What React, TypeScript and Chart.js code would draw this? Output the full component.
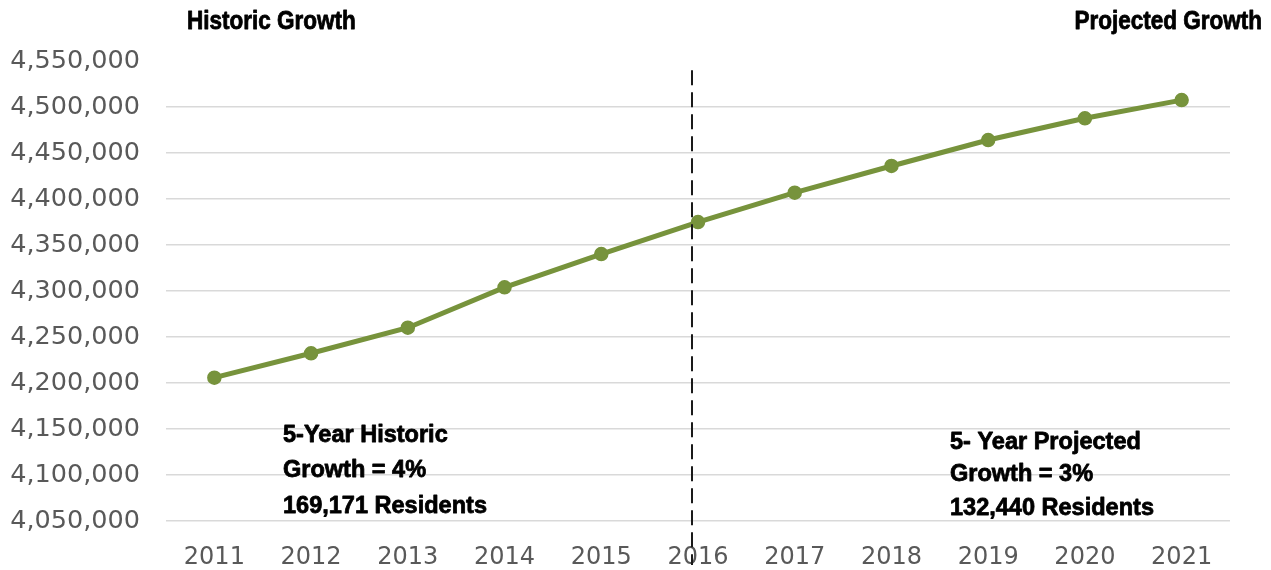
import React, { useEffect, useRef } from "react";
import { Chart, registerables } from "chart.js";

Chart.register(...registerables);

const years = ["2011", "2012", "2013", "2014", "2015", "2016", "2017", "2018", "2019", "2020", "2021"];
const population = [4205800, 4232300, 4260100, 4304000, 4340200, 4374900, 4406900, 4435900, 4464100, 4487700, 4507500];
const yMin = 4050000;
const yMax = 4550000;
const yStep = 50000;
const dividerIndex = 4.94;
const dividerTopValue = 4540000;
const headerLeft = "Historic Growth";
const headerRight = "Projected Growth";
const historicNote = ["5-Year Historic", "Growth = 4%", "169,171 Residents"];
const projectedNote = ["5- Year Projected", "Growth = 3%", "132,440 Residents"];

const LINE_COLOR = "#77933c";
const FONT_FAMILY = "'Liberation Sans Narrow', 'Arial Narrow', sans-serif";

function drawText(ctx: any, text: string, x: number, y: number, size: number, sx: number, align: "left" | "right") {
  ctx.save();
  ctx.translate(x, y);
  ctx.scale(sx, 1);
  ctx.font = `bold ${size}px ${FONT_FAMILY}`;
  ctx.textAlign = align;
  ctx.textBaseline = "alphabetic";
  ctx.fillStyle = "#000";
  ctx.strokeStyle = "#000";
  ctx.lineWidth = 0.8;
  ctx.lineJoin = "round";
  ctx.fillText(text, 0, 0);
  ctx.strokeText(text, 0, 0);
  ctx.restore();
}

const annotationPlugin = {
  id: "annotations",
  afterDatasetsDraw(chart: any) {
    const { ctx, chartArea, scales } = chart;
    const x = Math.round(scales.x.getPixelForValue(dividerIndex));
    const yTop = scales.y.getPixelForValue(dividerTopValue);
    ctx.save();
    ctx.strokeStyle = "#1a1a1a";
    ctx.lineWidth = 2;
    ctx.setLineDash([15, 7]);
    ctx.beginPath();
    ctx.moveTo(x, yTop);
    ctx.lineTo(x, chartArea.bottom + 44);
    ctx.stroke();
    ctx.restore();
  },
  afterDraw(chart: any) {
    const { ctx } = chart;
    drawText(ctx, headerLeft, 187, 29, 25, 0.9, "left");
    drawText(ctx, headerRight, 1262, 29, 25, 0.9, "right");
    const lb = [442, 477, 513];
    historicNote.forEach((t, i) => drawText(ctx, t, 283, lb[i], 24, 0.98, "left"));
    const rb = [449, 481, 515];
    projectedNote.forEach((t, i) => drawText(ctx, t, 950, rb[i], 24, 0.98, "left"));
  },
};

export default function App() {
  const canvasRef = useRef<HTMLCanvasElement | null>(null);

  useEffect(() => {
    document.body.style.margin = "0";
    const canvas = canvasRef.current;
    if (!canvas) return;
    const chart = new Chart(canvas, {
      type: "line",
      data: {
        labels: years,
        datasets: [
          {
            data: population,
            borderColor: LINE_COLOR,
            backgroundColor: LINE_COLOR,
            borderWidth: 5,
            pointRadius: 6.5,
            pointBorderWidth: 1.5,
            pointBorderColor: LINE_COLOR,
            pointBackgroundColor: LINE_COLOR,
            tension: 0,
          },
        ],
      },
      options: {
        animation: false,
        responsive: false,
        layout: { padding: { top: 61, right: 41, bottom: 0, left: 0 } },
        plugins: { legend: { display: false }, tooltip: { enabled: false } },
        scales: {
          x: {
            offset: true,
            grid: { display: false },
            border: { display: false },
            ticks: {
              color: "#595959",
              font: { family: "'DejaVu Sans', sans-serif", size: 24 },
              padding: 14,
              maxRotation: 0,
            },
            afterFit(scale: any) {
              scale.height = 49;
            },
          },
          y: {
            min: yMin,
            max: yMax,
            border: { display: false },
            grid: {
              drawTicks: false,
              lineWidth: 1.5,
              color: (c: any) => (c.tick && c.tick.value === yMax ? "rgba(0,0,0,0)" : "#d9d9d9"),
            },
            ticks: {
              stepSize: yStep,
              color: "#595959",
              font: { family: "'DejaVu Sans', sans-serif", size: 25.5 },
              padding: 26,
              callback: (v: any) => Number(v).toLocaleString("en-US"),
            },
            afterFit(scale: any) {
              scale.width = 166;
            },
          },
        },
      },
      plugins: [annotationPlugin],
    });
    return () => chart.destroy();
  }, []);

  return (
    <div style={{ width: 1271, height: 570 }}>
      <canvas ref={canvasRef} width={1271} height={570} style={{ display: "block" }} />
    </div>
  );
}
